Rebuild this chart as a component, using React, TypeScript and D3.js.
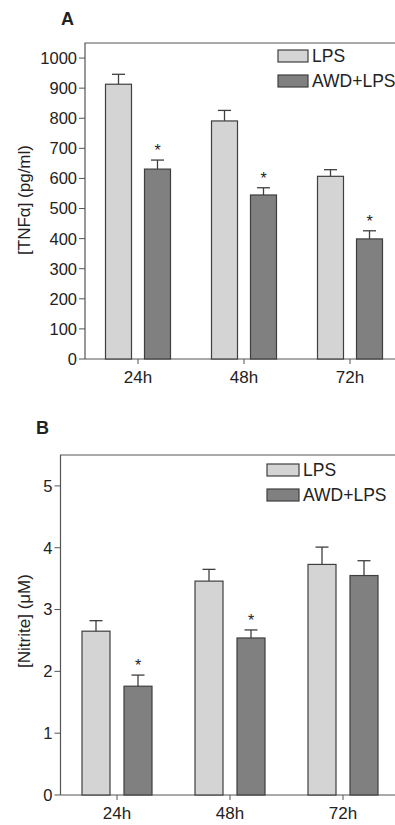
import * as d3 from 'd3';

// time points shared by both panels
const categories = ['24h', '48h', '72h'];
const seriesNames = ['LPS', 'AWD+LPS'];

// panel A: TNFa (pg/ml)
const tnfLps = [913, 791, 607];
const tnfLpsErr = [33, 35, 22];
const tnfAwd = [631, 545, 399];
const tnfAwdErr = [30, 24, 27];
const tnfTicks = [0, 100, 200, 300, 400, 500, 600, 700, 800, 900, 1000];

// panel B: nitrite (uM)
const noLps = [2.65, 3.46, 3.73];
const noLpsErr = [0.17, 0.19, 0.28];
const noAwd = [1.76, 2.54, 3.55];
const noAwdErr = [0.18, 0.13, 0.24];
const noTicks = [0, 1, 2, 3, 4, 5];

// significance marks per series
const tnfStars = [[false, false, false], [true, true, true]];
const noStars = [[false, false, false], [true, true, false]];

const FONT = '"Liberation Sans", Arial, Helvetica, sans-serif';
const colors = ['#d4d4d4', '#808080'];
const STROKE = '#3f3f3f';

type PanelProps = {
  letter: string;
  letterX: number;
  letterY: number;
  top: number;
  bottom: number;
  left: number;
  step: number;
  groupW: number;
  yMax: number;
  ticks: number[];
  values: number[][];
  errors: number[][];
  stars: boolean[][];
  yLabel: string;
  labelY: number;
  legendX: number;
  legendY: number;
  swatchW: number;
};

function Panel(p: PanelProps) {
  const y = d3.scaleLinear().domain([0, p.yMax]).range([p.bottom, p.top]);
  const x0 = d3
    .scaleBand()
    .domain(categories)
    .range([p.left, p.left + p.step * categories.length])
    .padding(0);
  const bw = x0.bandwidth();
  const x1 = d3
    .scaleBand()
    .domain(seriesNames)
    .range([(bw - p.groupW) / 2, (bw + p.groupW) / 2])
    .paddingInner(1 / 3);

  return (
    <g fontFamily={FONT}>
      <text x={p.letterX} y={p.letterY} fontSize={18} fontWeight="bold" fill="#222">
        {p.letter}
      </text>
      {/* frame: top and left */}
      <path
        d={`M${p.left},${p.bottom}V${p.top}H${400}`}
        fill="none"
        stroke="#555"
        strokeWidth={1.2}
      />
      <line x1={p.left} x2={400} y1={p.bottom} y2={p.bottom} stroke="#555" strokeWidth={1.2} />
      {p.ticks.map((t) => (
        <g key={t}>
          <line x1={p.left - 6} x2={p.left} y1={y(t)} y2={y(t)} stroke="#555" strokeWidth={1} />
          <text
            x={p.left - 8}
            y={y(t)}
            dy="0.36em"
            textAnchor="end"
            fontSize={16.5}
            fill="#222"
          >
            {t}
          </text>
        </g>
      ))}
      {categories.map((c) => (
        <g key={c}>
          <line
            x1={x0(c)! + bw / 2}
            x2={x0(c)! + bw / 2}
            y1={p.bottom}
            y2={p.bottom + 5}
            stroke="#555"
          />
          <text
            x={x0(c)! + bw / 2}
            y={p.bottom + 24}
            textAnchor="middle"
            fontSize={17}
            fill="#222"
          >
            {c}
          </text>
        </g>
      ))}
      {seriesNames.map((s, si) =>
        categories.map((c, ci) => {
          const v = p.values[si][ci];
          const e = p.errors[si][ci];
          const bx = x0(c)! + x1(s)!;
          const w = x1.bandwidth();
          const cx = bx + w / 2;
          return (
            <g key={s + c}>
              <line x1={cx} x2={cx} y1={y(v)} y2={y(v + e)} stroke={STROKE} strokeWidth={1.3} />
              <line
                x1={cx - 6.5}
                x2={cx + 6.5}
                y1={y(v + e)}
                y2={y(v + e)}
                stroke={STROKE}
                strokeWidth={1.3}
              />
              <rect
                x={bx}
                y={y(v)}
                width={w}
                height={p.bottom - y(v)}
                fill={colors[si]}
                stroke={STROKE}
                strokeWidth={1.2}
              />
              {p.stars[si][ci] && (
                <text
                  x={cx}
                  y={y(v + e) - 4}
                  textAnchor="middle"
                  fontSize={16}
                  fill="#222"
                >
                  *
                </text>
              )}
            </g>
          );
        })
      )}
      <text
        transform={`translate(30,${p.labelY}) rotate(-90)`}
        textAnchor="middle"
        fontSize={17}
        fill="#222"
      >
        {p.yLabel}
      </text>
      {seriesNames.map((s, si) => (
        <g key={s} transform={`translate(${p.legendX},${p.legendY + si * 25})`}>
          <rect width={p.swatchW} height={12} fill={colors[si]} stroke={STROKE} strokeWidth={1.2} />
          <text x={p.swatchW + 4} y={6} dy="0.36em" fontSize={17.5} fill="#222">
            {s}
          </text>
        </g>
      ))}
    </g>
  );
}

export default function App() {
  return (
    <svg
      width={395}
      height={825}
      style={{ position: 'absolute', left: 0, top: 0, background: '#fff' }}
    >
      <Panel
        letter="A"
        letterX={61}
        letterY={25}
        top={43}
        bottom={359}
        left={85}
        step={106}
        groupW={65}
        yMax={1050}
        ticks={tnfTicks}
        values={[tnfLps, tnfAwd]}
        errors={[tnfLpsErr, tnfAwdErr]}
        stars={tnfStars}
        yLabel="[TNFα] (pg/ml)"
        labelY={200}
        legendX={278}
        legendY={50}
        swatchW={30}
      />
      <Panel
        letter="B"
        letterX={36}
        letterY={434}
        top={455}
        bottom={795}
        left={60.5}
        step={113}
        groupW={70}
        yMax={5.5}
        ticks={noTicks}
        values={[noLps, noAwd]}
        errors={[noLpsErr, noAwdErr]}
        stars={noStars}
        yLabel="[Nitrite] (μM)"
        labelY={621}
        legendX={267}
        legendY={464}
        swatchW={32}
      />
    </svg>
  );
}
